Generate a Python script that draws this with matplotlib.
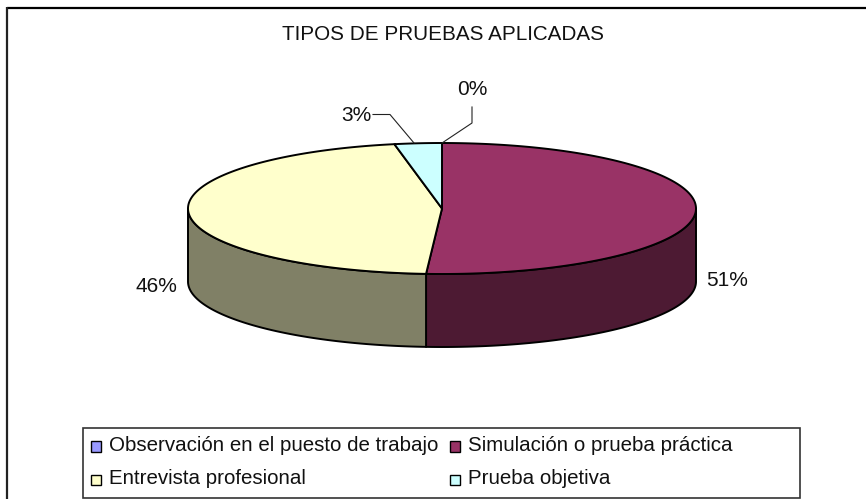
import matplotlib

matplotlib.use("Agg")
import matplotlib.pyplot as plt
import numpy as np
from matplotlib.patches import Polygon, Rectangle

CATEGORIES = [
    "Observación en el puesto de trabajo",
    "Simulación o prueba práctica",
    "Entrevista profesional",
    "Prueba objetiva",
]
VALUES = [0, 51, 46, 3]
TITLE = "TIPOS DE PRUEBAS APLICADAS"

TOP_COLORS = ["#9999ff", "#993366", "#ffffcc", "#ccffff"]
SIDE_COLORS = ["#4c4c80", "#4d1a33", "#808066", "#668080"]

# pie geometry in image pixels
CX, CY = 442, 208.5
RX, RY = 254, 65.5
DEPTH = 73

plt.rcParams["font.family"] = ["Liberation Sans", "DejaVu Sans"]


def rim(a0, a1, n=200):
    t = np.radians(np.linspace(a0, a1, n))
    return CX + RX * np.sin(t), CY - RY * np.cos(t)


def draw_side(ax, a0, a1, color):
    # only the front half of the rim (90-270 deg clockwise from top) is seen
    a0, a1 = max(a0, 90), min(a1, 270)
    if a1 <= a0:
        return
    x, y = rim(a0, a1)
    pts = np.r_[np.c_[x, y], np.c_[x[::-1], y[::-1] + DEPTH]]
    ax.add_patch(Polygon(pts, closed=True, fc=color, ec="black", lw=1.4, joinstyle="round"))


fig = plt.figure(figsize=(8.66, 4.99), dpi=100)
ax = fig.add_axes([0, 0, 1, 1])
ax.set_xlim(0, 866)
ax.set_ylim(499, 0)
ax.axis("off")

# chart frame runs off the right and bottom of the image
ax.plot([7, 866], [7.8, 7.8], color="black", lw=1.6, solid_capstyle="butt")
ax.plot([7.2, 7.2], [7, 499], color="#222222", lw=1.6, solid_capstyle="butt")

angles = np.cumsum([0] + VALUES) / sum(VALUES) * 360
for i in range(len(VALUES)):
    draw_side(ax, angles[i], angles[i + 1], SIDE_COLORS[i])
for i in range(len(VALUES)):
    if VALUES[i] == 0:
        continue
    x, y = rim(angles[i], angles[i + 1])
    pts = np.r_[[[CX, CY]], np.c_[x, y]]
    ax.add_patch(Polygon(pts, closed=True, fc=TOP_COLORS[i], ec="black", lw=1.4, joinstyle="round"))

ax.text(443.5, 34.5, TITLE, ha="center", va="center", fontsize=14.9, color="#111111")
ax.text(472.5, 89, f"{VALUES[0]}%", ha="center", va="center", fontsize=15, color="#111111")
ax.text(356, 115, f"{VALUES[3]}%", ha="center", va="center", fontsize=15, color="#111111")
ax.text(156, 286, f"{VALUES[2]}%", ha="center", va="center", fontsize=15, color="#111111")
ax.text(727.5, 281, f"{VALUES[1]}%", ha="center", va="center", fontsize=15, color="#111111")

ax.plot([373, 390, 414], [114.5, 114.5, 143], color="#222222", lw=0.8)
ax.plot([442, 472, 472], [143, 123, 107], color="#222222", lw=0.8)

ax.add_patch(Rectangle((82.5, 428), 717.5, 70, fc="white", ec="#333333", lw=1.2))
slots = [(91, 446.5), (450, 446.5), (91, 480), (450, 480)]
for (lx, ly), name, color in zip(slots, CATEGORIES, TOP_COLORS):
    ax.add_patch(Rectangle((lx, ly - 5.2), 10.4, 10.4, fc=color, ec="black", lw=1))
    ax.text(lx + 18, ly - 1, name, ha="left", va="center", fontsize=14.8, color="#111111")

fig.savefig("out.png", dpi=100)
